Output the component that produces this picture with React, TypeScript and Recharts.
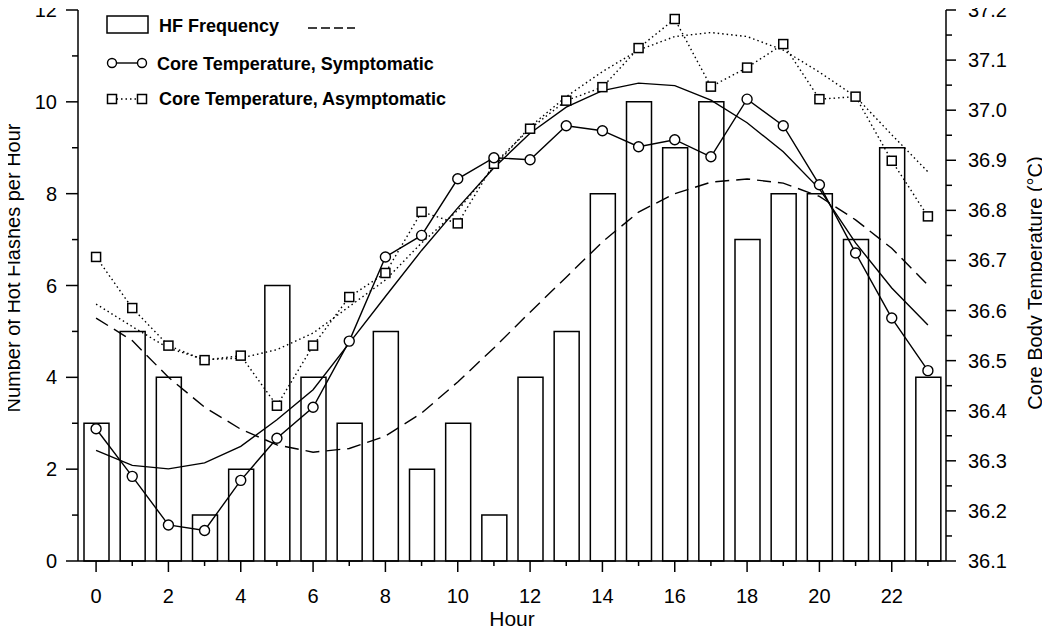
import { ComposedChart, Bar, Line, XAxis, YAxis } from 'recharts'

const hours = [0, 1, 2, 3, 4, 5, 6, 7, 8, 9, 10, 11, 12, 13, 14, 15, 16, 17, 18, 19, 20, 21, 22, 23]
const hfFrequency = [3, 5, 4, 1, 2, 6, 4, 3, 5, 2, 3, 1, 4, 5, 8, 10, 9, 10, 7, 8, 8, 7, 9, 4]
const hfFit = [5.29, 4.8, 4.0, 3.35, 2.87, 2.53, 2.37, 2.45, 2.72, 3.22, 3.9, 4.64, 5.42, 6.18, 6.95, 7.6, 8.0, 8.25, 8.32, 8.23, 7.94, 7.43, 6.81, 6.01]
const symptomatic = [36.364, 36.269, 36.172, 36.161, 36.261, 36.345, 36.407, 36.539, 36.707, 36.75, 36.863, 36.905, 36.901, 36.969, 36.959, 36.927, 36.941, 36.907, 37.022, 36.969, 36.851, 36.715, 36.585, 36.48]
const symptomaticFit = [36.321, 36.291, 36.284, 36.296, 36.329, 36.382, 36.442, 36.535, 36.628, 36.72, 36.805, 36.885, 36.954, 37.006, 37.039, 37.054, 37.049, 37.02, 36.975, 36.917, 36.843, 36.735, 36.645, 36.571]
const asymptomatic = [36.707, 36.605, 36.53, 36.501, 36.51, 36.41, 36.53, 36.627, 36.675, 36.797, 36.774, 36.893, 36.963, 37.019, 37.046, 37.124, 37.182, 37.047, 37.085, 37.132, 37.022, 37.027, 36.899, 36.788]
const asymptomaticFit = [36.613, 36.568, 36.525, 36.502, 36.505, 36.522, 36.555, 36.608, 36.661, 36.735, 36.8, 36.887, 36.967, 37.027, 37.077, 37.12, 37.147, 37.155, 37.147, 37.12, 37.076, 37.027, 36.951, 36.877]

const leftTicks = [0, 1, 2, 3, 4, 5, 6, 7, 8, 9, 10, 11, 12]
const rightTicks = [36.1, 36.15, 36.2, 36.25, 36.3, 36.35, 36.4, 36.45, 36.5, 36.55, 36.6, 36.65, 36.7, 36.75, 36.8, 36.85, 36.9, 36.95, 37.0, 37.05, 37.1, 37.15, 37.2]

const data = hours.map((h, i) => ({
  hour: h,
  hf: hfFrequency[i],
  hfFit: hfFit[i],
  symp: symptomatic[i],
  sympFit: symptomaticFit[i],
  asym: asymptomatic[i],
  asymFit: asymptomaticFit[i],
}))

const FONT = '"Liberation Sans", Arial, sans-serif'

const XTick = (props: any) => {
  const { x, y, payload } = props
  const major = payload.value % 2 === 0
  return (
    <g>
      <line x1={x} x2={x} y1={y} y2={y + (major ? 11 : 5)} stroke="#000" strokeWidth={1.5} />
      {major && (
        <text x={x} y={y + 42} textAnchor="middle" fontSize={20} fontFamily={FONT} fill="#000">
          {payload.value}
        </text>
      )}
    </g>
  )
}

const LeftTick = (props: any) => {
  const { x, y, payload } = props
  const major = payload.value % 2 === 0
  return (
    <g>
      <line x1={x} x2={x - (major ? 12 : 6)} y1={y} y2={y} stroke="#000" strokeWidth={1.5} />
      {major && (
        <text x={x - 21} y={y + 7} textAnchor="end" fontSize={20} fontFamily={FONT} fill="#000">
          {payload.value}
        </text>
      )}
    </g>
  )
}

const RightTick = (props: any) => {
  const { x, y, payload } = props
  const v = payload.value
  const major = Math.abs(v * 10 - Math.round(v * 10)) < 1e-6
  return (
    <g>
      <line x1={x} x2={x + (major ? 10 : 6)} y1={y} y2={y} stroke="#000" strokeWidth={1.5} />
      {major && (
        <text x={x + 22} y={y + 7} textAnchor="start" fontSize={20} fontFamily={FONT} fill="#000">
          {v.toFixed(1)}
        </text>
      )}
    </g>
  )
}

const SquareDot = (props: any) => {
  const { cx, cy, index } = props
  if (cx == null || cy == null) return <g key={index} />
  return (
    <rect key={index} x={cx - 4.5} y={cy - 4.5} width={9} height={9} fill="#fff" stroke="#000" strokeWidth={1.5} />
  )
}

export default function App() {
  // pull the chart up to the page corner so the top tick labels are not clipped
  return (
    <div style={{ position: 'relative', width: 1050, height: 629, margin: '-8px 0 0 -8px', fontFamily: FONT }}>
      <ComposedChart
        width={1050}
        height={629}
        data={data}
        margin={{ top: 10, right: 0, bottom: 0, left: 0 }}
      >
        <XAxis
          dataKey="hour"
          height={68}
          interval={0}
          tickSize={0}
          tickMargin={0}
          tickLine={false}
          axisLine={{ stroke: '#000', strokeWidth: 1.5 }}
          tick={<XTick />}
        />
        <YAxis
          yAxisId="left"
          width={78}
          domain={[0, 12]}
          ticks={leftTicks}
          interval={0}
          tickSize={0}
          tickMargin={0}
          tickLine={false}
          axisLine={{ stroke: '#000', strokeWidth: 1.5 }}
          tick={<LeftTick />}
        />
        <YAxis
          yAxisId="right"
          orientation="right"
          width={104}
          domain={[36.1, 37.2]}
          ticks={rightTicks}
          interval={0}
          tickSize={0}
          tickMargin={0}
          tickLine={false}
          axisLine={{ stroke: '#000', strokeWidth: 1.5 }}
          tick={<RightTick />}
        />
        <Bar
          yAxisId="left"
          dataKey="hf"
          barSize={25}
          fill="#fff"
          stroke="#000"
          strokeWidth={1.5}
          isAnimationActive={false}
        />
        <Line
          yAxisId="left"
          dataKey="hfFit"
          type="linear"
          stroke="#000"
          strokeWidth={1.4}
          strokeDasharray="14 7"
          dot={false}
          activeDot={false}
          isAnimationActive={false}
        />
        <Line
          yAxisId="right"
          dataKey="sympFit"
          type="linear"
          stroke="#000"
          strokeWidth={1.4}
          dot={false}
          activeDot={false}
          isAnimationActive={false}
        />
        <Line
          yAxisId="right"
          dataKey="asymFit"
          type="linear"
          stroke="#000"
          strokeWidth={1.4}
          strokeDasharray="1.5 3"
          dot={false}
          activeDot={false}
          isAnimationActive={false}
        />
        <Line
          yAxisId="right"
          dataKey="asym"
          type="linear"
          stroke="#000"
          strokeWidth={1.4}
          strokeDasharray="1.5 3"
          dot={<SquareDot />}
          activeDot={false}
          isAnimationActive={false}
        />
        <Line
          yAxisId="right"
          dataKey="symp"
          type="linear"
          stroke="#000"
          strokeWidth={1.4}
          dot={{ r: 5, fill: '#fff', stroke: '#000', strokeWidth: 1.4 }}
          activeDot={false}
          isAnimationActive={false}
        />
      </ComposedChart>

      <svg
        width={1050}
        height={629}
        style={{ position: 'absolute', left: 0, top: 0, pointerEvents: 'none' }}
      >
        {/* legend */}
        <rect x={107} y={16} width={41} height={17} fill="#fff" stroke="#000" strokeWidth={1.5} />
        <text x={159} y={32} fontSize={18} fontWeight="bold" fontFamily={FONT}>HF Frequency</text>
        <line x1={308} x2={355} y1={28} y2={28} stroke="#000" strokeWidth={1.4} strokeDasharray="9 4" />

        <line x1={112} x2={142} y1={63} y2={63} stroke="#000" strokeWidth={1.4} />
        <circle cx={112} cy={63} r={4.5} fill="#fff" stroke="#000" strokeWidth={1.4} />
        <circle cx={142} cy={63} r={4.5} fill="#fff" stroke="#000" strokeWidth={1.4} />
        <text x={157} y={70} fontSize={18} fontWeight="bold" fontFamily={FONT}>Core Temperature, Symptomatic</text>

        <line x1={112} x2={142} y1={99} y2={99} stroke="#000" strokeWidth={1.4} strokeDasharray="1.5 3" />
        <rect x={107.5} y={94.5} width={9} height={9} fill="#fff" stroke="#000" strokeWidth={1.5} />
        <rect x={137.5} y={94.5} width={9} height={9} fill="#fff" stroke="#000" strokeWidth={1.5} />
        <text x={159} y={105} fontSize={18} fontWeight="bold" fontFamily={FONT}>Core Temperature, Asymptomatic</text>

        {/* axis titles */}
        <text
          transform="translate(20, 268) rotate(-90)"
          textAnchor="middle"
          fontSize={20}
          fontFamily={FONT}
        >
          Number of Hot Flashes per Hour
        </text>
        <text
          transform="translate(1042, 283) rotate(-90)"
          textAnchor="middle"
          fontSize={20}
          fontFamily={FONT}
        >
          Core Body Temperature (°C)
        </text>
        <text x={512} y={626} textAnchor="middle" fontSize={21} fontFamily={FONT}>
          Hour
        </text>
      </svg>
    </div>
  )
}
